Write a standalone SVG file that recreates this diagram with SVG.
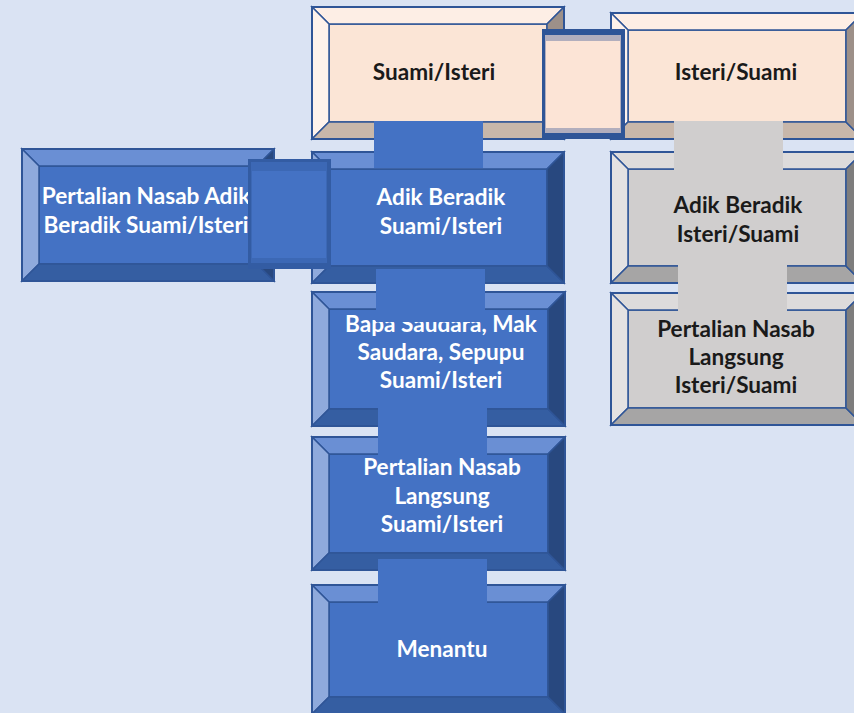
<svg xmlns="http://www.w3.org/2000/svg" width="854" height="713" viewBox="0 0 854 713">
<style>
.node polygon,.node .face{stroke:#2f5597;stroke-width:1.5;stroke-linejoin:miter}
.node .border{fill:none;stroke:#2f5597;stroke-width:2}
.peach .face{fill:#fbe5d6}.peach .t{fill:#fdeee5}.peach .l{fill:#fef2eb}.peach .b{fill:#c8b7aa}.peach .r{fill:#9d9089}
.blue .face{fill:#4472c4}.blue .t{fill:#6a8fd4}.blue .l{fill:#8faadc}.blue .b{fill:#355ea2}.blue .r{fill:#28487f}
.gray .face{fill:#d0cece}.gray .t{fill:#dddbdb}.gray .l{fill:#e4e2e2}.gray .b{fill:#a6a5a5}.gray .r{fill:#7e7d7d}
text{font-family:Lato,"Open Sans","Liberation Sans",sans-serif;font-weight:bold;font-size:22.6px;text-anchor:middle}
.dark text{fill:#1a1a1a}
.blue text{fill:#ffffff}
</style>
<rect x="0" y="0" width="854" height="713" fill="#dae3f3"/>

<g id="n1" class="node peach dark">
<rect class="face" x="329" y="24" width="218" height="98"/>
<polygon class="t" points="312,7 564,7 547,24 329,24"/>
<polygon class="l" points="312,7 329,24 329,122 312,139"/>
<polygon class="b" points="312,139 329,122 547,122 564,139"/>
<polygon class="r" points="564,7 564,139 547,122 547,24"/>
<rect class="border" x="312" y="7" width="252" height="132"/>
<text x="434" y="80">Suami/Isteri</text>
</g>

<g id="n2" class="node peach dark">
<rect class="face" x="628" y="30" width="218" height="92"/>
<polygon class="t" points="611,13 863,13 846,30 628,30"/>
<polygon class="l" points="611,13 628,30 628,122 611,139"/>
<polygon class="b" points="611,139 628,122 846,122 863,139"/>
<polygon class="r" points="863,13 863,139 846,122 846,30"/>
<rect class="border" x="611" y="13" width="252" height="126"/>
<text x="736" y="80">Isteri/Suami</text>
</g>

<g id="n3" class="node blue">
<rect class="face" x="39" y="166" width="218" height="98"/>
<polygon class="t" points="22,149 274,149 257,166 39,166"/>
<polygon class="l" points="22,149 39,166 39,264 22,281"/>
<polygon class="b" points="22,281 39,264 257,264 274,281"/>
<polygon class="r" points="274,149 274,281 257,264 257,166"/>
<rect class="border" x="22" y="149" width="252" height="132"/>
<text x="146" y="204">Pertalian Nasab Adik</text>
<text x="146" y="233">Beradik Suami/Isteri</text>
</g>

<g id="n4" class="node blue">
<rect class="face" x="329" y="169" width="218" height="97"/>
<polygon class="t" points="312,152 564,152 547,169 329,169"/>
<polygon class="l" points="312,152 329,169 329,266 312,283"/>
<polygon class="b" points="312,283 329,266 547,266 564,283"/>
<polygon class="r" points="564,152 564,283 547,266 547,169"/>
<rect class="border" x="312" y="152" width="252" height="131"/>
<text x="441" y="205">Adik Beradik</text>
<text x="441" y="234">Suami/Isteri</text>
</g>

<g id="n5" class="node gray dark">
<rect class="face" x="628" y="169" width="218" height="97"/>
<polygon class="t" points="611,152 863,152 846,169 628,169"/>
<polygon class="l" points="611,152 628,169 628,266 611,283"/>
<polygon class="b" points="611,283 628,266 846,266 863,283"/>
<polygon class="r" points="863,152 863,283 846,266 846,169"/>
<rect class="border" x="611" y="152" width="252" height="131"/>
<text x="738" y="213">Adik Beradik</text>
<text x="738" y="242">Isteri/Suami</text>
</g>

<g id="n6" class="node blue">
<rect class="face" x="329" y="309" width="219" height="100"/>
<polygon class="t" points="312,292 565,292 548,309 329,309"/>
<polygon class="l" points="312,292 329,309 329,409 312,426"/>
<polygon class="b" points="312,426 329,409 548,409 565,426"/>
<polygon class="r" points="565,292 565,426 548,409 548,309"/>
<rect class="border" x="312" y="292" width="253" height="134"/>
<text x="441" y="332">Bapa Saudara, Mak</text>
<text x="441" y="360">Saudara, Sepupu</text>
<text x="441" y="388">Suami/Isteri</text>
</g>

<g id="n7" class="node gray dark">
<rect class="face" x="628" y="310" width="218" height="98"/>
<polygon class="t" points="611,293 863,293 846,310 628,310"/>
<polygon class="l" points="611,293 628,310 628,408 611,425"/>
<polygon class="b" points="611,425 628,408 846,408 863,425"/>
<polygon class="r" points="863,293 863,425 846,408 846,310"/>
<rect class="border" x="611" y="293" width="252" height="132"/>
<text x="736" y="337">Pertalian Nasab</text>
<text x="736" y="365">Langsung</text>
<text x="736" y="393">Isteri/Suami</text>
</g>

<g id="n8" class="node blue">
<rect class="face" x="329" y="454" width="219" height="99"/>
<polygon class="t" points="312,437 565,437 548,454 329,454"/>
<polygon class="l" points="312,437 329,454 329,553 312,570"/>
<polygon class="b" points="312,570 329,553 548,553 565,570"/>
<polygon class="r" points="565,437 565,570 548,553 548,454"/>
<rect class="border" x="312" y="437" width="253" height="133"/>
<text x="442" y="475">Pertalian Nasab</text>
<text x="442" y="504">Langsung</text>
<text x="442" y="532">Suami/Isteri</text>
</g>

<g id="n9" class="node blue">
<rect class="face" x="329" y="602" width="219" height="95"/>
<polygon class="t" points="312,585 565,585 548,602 329,602"/>
<polygon class="l" points="312,585 329,602 329,697 312,714"/>
<polygon class="b" points="312,714 329,697 548,697 565,714"/>
<polygon class="r" points="565,585 565,714 548,697 548,602"/>
<rect class="border" x="312" y="585" width="253" height="129"/>
<text x="442" y="657">Menantu</text>
</g>

<g id="connectors">
<rect x="374" y="121" width="109" height="47" fill="#4472c4"/>
<rect x="674" y="121" width="109" height="51" fill="#d0cece"/>
<rect x="678" y="265" width="109" height="47" fill="#d0cece"/>
<rect x="376" y="269" width="109" height="53" fill="#4472c4"/>
<rect x="378" y="407" width="109" height="48" fill="#4472c4"/>
<rect x="378" y="559" width="109" height="44" fill="#4472c4"/>
<g id="c-peach">
<rect x="542" y="29" width="83" height="110" fill="#2f5597"/>
<rect x="545" y="35" width="76" height="98" fill="#b2aebd"/>
<rect x="546" y="41" width="74" height="87" fill="#fce4d6"/>
</g>
<g id="c-blue">
<rect x="248" y="159" width="83" height="110" fill="#335ca3"/>
<rect x="251" y="162" width="76" height="101" fill="#3c68b5"/>
<rect x="252" y="171" width="74" height="87" fill="#4472c4"/>
</g>
</g>
</svg>
